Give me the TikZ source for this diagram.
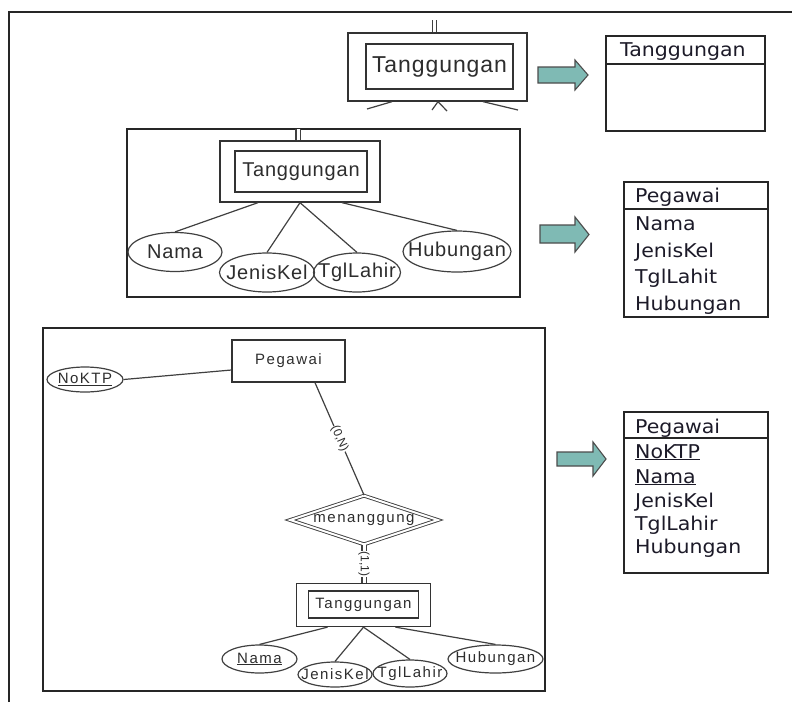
\documentclass[tikz,border=0pt]{standalone}
\usepackage{fontspec}
\setmainfont{Liberation Sans}
\newfontfamily\tabfont[FakeStretch=1.08]{DejaVu Sans}
\newfontfamily\erspaced[LetterSpace=10]{Liberation Sans}
\newfontfamily\ermid[LetterSpace=4]{Liberation Sans}
\usetikzlibrary{shapes.geometric}
\definecolor{arrowfill}{RGB}{127,186,180}
\definecolor{tabtext}{RGB}{28,26,40}
\definecolor{ertext}{RGB}{45,45,45}
\begin{document}
\begin{tikzpicture}[x=1pt,y=-1pt,
  frame/.style={draw=black!85, line width=1.6pt},
  erline/.style={draw=black!75, line width=1.2pt},
  dbl/.style={erline, double, double distance=3pt},
  entbox/.style={draw=black!80, line width=1.3pt, rectangle, inner sep=0pt, text=ertext},
  attr/.style={draw=black!75, line width=1.2pt, ellipse, inner sep=0pt, text=ertext},
  tab/.style={draw=black!85, line width=1.4pt},
  tabtxt/.style={font=\tabfont\fontsize{19}{19}\selectfont, text=tabtext, anchor=base west, inner sep=0pt},
  bigf/.style={font=\ermid\fontsize{20}{20}\selectfont},
  smallf/.style={font=\erspaced\fontsize{15}{15}\selectfont},
  card/.style={sloped, fill=white, inner sep=0.5pt, text=ertext, font=\fontsize{12}{12}\selectfont},
  blockarrow/.style={fill=arrowfill, draw=black!70, line width=1.1pt, line join=miter},
]
\useasboundingbox (0,0) rectangle (792,702);

% outer frame
\draw[frame] (9,702) -- (9,12) -- (792,12);

% ---------- top section ----------
\node[entbox, minimum width=179pt, minimum height=68pt] (tgA) at (437.5,67) {};
\node[entbox, minimum width=147pt, minimum height=45pt, font=\ermid\fontsize{23}{23}\selectfont] (tgAin) at (439.5,66.5) {Tanggungan};
\coordinate (dA) at (434.5,20);
\draw[dbl] (tgA.north -| dA) -- (dA);
\coordinate (sA1) at (367,109);
\coordinate (sA2) at (432,110);
\coordinate (sA3) at (447,111);
\coordinate (sA4) at (518,110);
\draw[erline] ([xshift=-45.5pt]tgA.south) -- (sA1);
\draw[erline] (sA2) -- ([xshift=0.5pt]tgA.south) -- (sA3);
\draw[erline] ([xshift=45.5pt]tgA.south) -- (sA4);

\draw[blockarrow] (538,67) -- (575,67) -- (575,60) -- (588,75) -- (575,90) -- (575,83) -- (538,83) -- cycle;

\node[tab, rectangle, minimum width=159pt, minimum height=95pt, inner sep=0pt] (tabA) at (685.5,83.5) {};
\draw[tab] (606,64) -- (765,64);
\node[tabtxt] (tabAh) at (620,56) {Tanggungan};

% ---------- middle section ----------
\draw[frame] (127,129) rectangle (520,297);
\node[entbox, minimum width=160pt, minimum height=61pt] (tgB) at (300,171.5) {};
\node[entbox, minimum width=132pt, minimum height=41pt, bigf] (tgBin) at (301,171.5) {Tanggungan};
\coordinate (dB) at (298,129);
\draw[dbl] (tgB.north -| dB) -- (dB);
\node[attr, minimum width=94pt, minimum height=39pt, bigf] (namaB) at (175,252) {\makebox[0pt]{Nama}};
\node[attr, minimum width=95pt, minimum height=39pt, bigf] (jkB) at (267,272.5) {\makebox[0pt]{JenisKel}};
\node[attr, minimum width=87pt, minimum height=39pt, bigf] (tlB) at (357,272.5) {\makebox[0pt]{TglLahir}};
\node[attr, minimum width=108pt, minimum height=41pt, bigf] (hubB) at (457,251.5) {\makebox[0pt]{Hubungan}};
\draw[erline] ([xshift=-42pt]tgB.south) -- (namaB.north);
\draw[erline] (tgB.south) -- (jkB.north);
\draw[erline] (tgB.south) -- (tlB.north);
\draw[erline] ([xshift=42pt]tgB.south) -- (hubB.north);

\draw[blockarrow] (540,225) -- (575,225) -- (575,217) -- (589,234.5) -- (575,252) -- (575,243) -- (540,243) -- cycle;

\node[tab, rectangle, minimum width=144pt, minimum height=135pt, inner sep=0pt] (tabB) at (696,249.5) {};
\draw[tab] (624,209) -- (768,209);
\node[tabtxt] (tabBh) at (635,202) {Pegawai};
\node[tabtxt] (tabB1) at (635,230.5) {Nama};
\node[tabtxt] (tabB2) at (635,257) {JenisKel};
\node[tabtxt] (tabB3) at (635,283.5) {TglLahit};
\node[tabtxt] (tabB4) at (635,310) {Hubungan};

% ---------- bottom section ----------
\draw[frame] (43,328) rectangle (545,691);
\node[entbox, minimum width=113pt, minimum height=42pt, smallf] (peg) at (288.5,361) {Pegawai};
\node[attr, minimum width=76pt, minimum height=25pt, smallf] (noktp) at (85,379.5) {\makebox[0pt]{\underline{NoKTP}}};
\draw[erline] (noktp.east) -- ([yshift=-9pt]peg.west);
\node[diamond, draw=black!75, line width=0.9pt, double, double distance=2pt, inner sep=0pt,
      minimum width=148pt, minimum height=49pt, smallf, text=ertext] (dia) at (364,520) {\makebox[0pt]{menanggung}};
\draw[erline] ([xshift=26.5pt]peg.south) -- node[card] {(0,N)} (dia.north);
\node[entbox, minimum width=134pt, minimum height=43pt] (tgC) at (363.5,605) {};
\node[entbox, minimum width=110pt, minimum height=27pt, smallf] (tgCin) at (363.5,604.5) {Tanggungan};
\draw[dbl] (dia.south) -- node[card] {(1,1)} (dia.south |- tgC.north);
\node[attr, minimum width=75pt, minimum height=28pt, smallf] (namaC) at (259.5,659) {\makebox[0pt]{\underline{Nama}}};
\node[attr, minimum width=74pt, minimum height=25pt, smallf] (jkC) at (335,674.5) {\makebox[0pt]{JenisKel}};
\node[attr, minimum width=74pt, minimum height=27pt, smallf] (tlC) at (410,673.5) {\makebox[0pt]{TglLahir}};
\node[attr, minimum width=95pt, minimum height=28pt, smallf] (hubC) at (495.5,659) {\makebox[0pt]{Hubungan}};
\draw[erline] ([xshift=-36pt]tgC.south) -- (namaC.north);
\draw[erline] (tgC.south) -- (jkC.north);
\draw[erline] (tgC.south) -- (tlC.north);
\draw[erline] ([xshift=32pt]tgC.south) -- (hubC.north);

\draw[blockarrow] (557,452) -- (593,452) -- (593,442) -- (606,459) -- (593,476) -- (593,466) -- (557,466) -- cycle;

\node[tab, rectangle, minimum width=144pt, minimum height=161pt, inner sep=0pt] (tabC) at (696,492.5) {};
\draw[tab] (624,438) -- (768,438);
\node[tabtxt] (tabCh) at (635,433) {Pegawai};
\node[tabtxt] (tabC1) at (635,458) {\underline{NoKTP}};
\node[tabtxt] (tabC2) at (635,483) {\underline{Nama}};
\node[tabtxt] (tabC3) at (635,507) {JenisKel};
\node[tabtxt] (tabC4) at (635,530) {TglLahir};
\node[tabtxt] (tabC5) at (635,553) {Hubungan};
\end{tikzpicture}
\end{document}
